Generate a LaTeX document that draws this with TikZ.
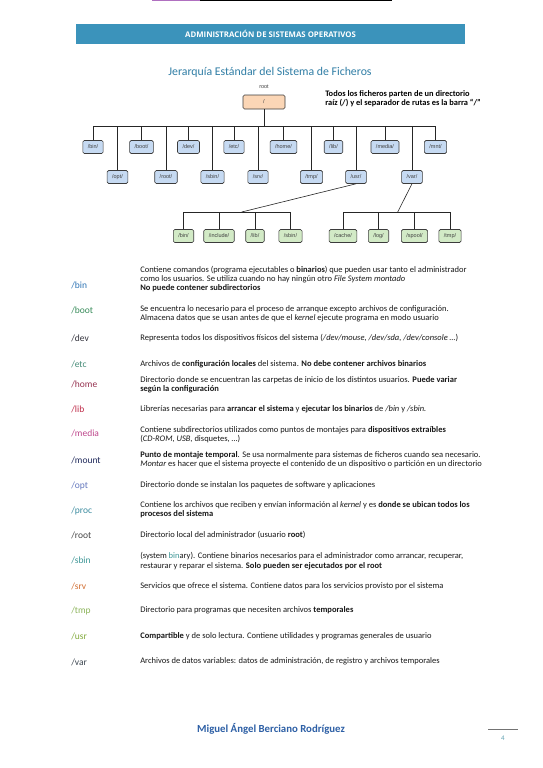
\documentclass[tikz,border=0pt]{standalone}
\usepackage{fontspec}
\setmainfont{Carlito}
\newfontfamily\boxfont{Liberation Sans}
\newfontfamily\headfont{Open Sans}

\definecolor{headblue}{RGB}{59,147,187}
\definecolor{titleblue}{RGB}{47,125,165}
\definecolor{footblue}{RGB}{46,96,166}
\definecolor{topline}{RGB}{176,112,192}
\definecolor{boxline}{RGB}{60,60,60}
\definecolor{boxblue}{RGB}{198,218,242}
\definecolor{boxgreen}{RGB}{210,234,198}
\definecolor{boxpeach}{RGB}{251,214,182}
\definecolor{desctext}{RGB}{25,25,25}
\definecolor{cbin}{RGB}{46,116,181}
\definecolor{cboot}{RGB}{56,140,90}
\definecolor{cdev}{RGB}{50,50,60}
\definecolor{cetc}{RGB}{70,140,120}
\definecolor{chome}{RGB}{150,50,80}
\definecolor{clib}{RGB}{190,40,70}
\definecolor{cmedia}{RGB}{190,70,140}
\definecolor{cmount}{RGB}{30,40,90}
\definecolor{copt}{RGB}{100,120,190}
\definecolor{cproc}{RGB}{60,140,160}
\definecolor{croot}{RGB}{70,70,70}
\definecolor{csbin}{RGB}{60,150,150}
\definecolor{csrv}{RGB}{210,110,50}
\definecolor{ctmp}{RGB}{140,180,90}
\definecolor{cusr}{RGB}{130,170,60}
\definecolor{cvar}{RGB}{60,70,80}

\begin{document}
\begin{tikzpicture}[
    x=1pt, y=-1pt,
    every node/.style={inner sep=0pt},
    every path/.style={line width=0.6pt, draw=black!85},
    dirbox/.style={
        draw=boxline,
        rounded corners=1.5pt,
        minimum height=13pt,
        inner xsep=5pt,
        font=\boxfont\fontsize{5.5}{6}\selectfont,
        text=black!75
    },
    bluebox/.style={dirbox, fill=boxblue},
    greenbox/.style={dirbox, fill=boxgreen},
    dirlabel/.style={anchor=west, font=\fontsize{9.5}{10}\selectfont},
    desc/.style={anchor=west, align=left, text=desctext,
        font=\fontsize{8.5}{9.3}\selectfont}
]

\fill[white, draw=none] (0,0) rectangle (542,768);

% Page header
\draw[topline, line width=1.2pt] (152,0.6) -- (200,0.6);
\draw[black, line width=1pt] (200,0.5) -- (392,0.5);
\node[fill=headblue, draw=none, minimum width=389pt, minimum height=20pt, text=white,
    font=\headfont\bfseries\fontsize{7.8}{9}\selectfont] (head) at (270.5,34)
    {ADMINISTRACIÓN DE SISTEMAS OPERATIVOS};

% Title
\node[text=titleblue, font=\fontsize{11.8}{13}\selectfont] (title) at (270,72)
    {Jerarquía Estándar del Sistema de Ficheros};
\node[anchor=west, align=left, font=\bfseries\fontsize{8.4}{9}\selectfont] (note)
    at (325,98.5) {Todos los ficheros parten de un directorio\\
    raíz (/) y el separador de rutas es la barra “/”};

% Root
\node[font=\boxfont\fontsize{5.5}{6}\selectfont, text=black!75] (rootlbl) at (264,87) {root};
\node[dirbox, fill=boxpeach, minimum width=42pt, minimum height=14pt] (root) at (264,102) {/};
\coordinate (bus) at (264,126);

% First level, upper row
\node[bluebox] (bin) at (93,147) {/bin/};
\node[bluebox] (boot) at (141.5,147) {/boot/};
\node[bluebox] (dev) at (188.5,147) {/dev/};
\node[bluebox] (etc) at (234,147) {/etc/};
\node[bluebox] (home) at (283.5,147) {/home/};
\node[bluebox] (lib) at (333.5,147) {/lib/};
\node[bluebox] (media) at (385,147) {/media/};
\node[bluebox] (mnt) at (435.5,147) {/mnt/};

% First level, lower row
\node[bluebox] (opt) at (117.5,177) {/opt/};
\node[bluebox] (rootdir) at (166,177) {/root/};
\node[bluebox] (sbin) at (212.5,177) {/sbin/};
\node[bluebox] (srv) at (258,177) {/srv/};
\node[bluebox] (tmp) at (311.5,177) {/tmp/};
\node[bluebox] (usr) at (356,177) {/usr/};
\node[bluebox] (var) at (412,177) {/var/};

\draw (root) -- (bus);
\draw (bin.north) |- (bus);
\draw (opt.north) |- (bus);
\draw (boot.north) |- (bus);
\draw (rootdir.north) |- (bus);
\draw (dev.north) |- (bus);
\draw (sbin.north) |- (bus);
\draw (etc.north) |- (bus);
\draw (srv.north) |- (bus);
\draw (home.north) |- (bus);
\draw (tmp.north) |- (bus);
\draw (lib.north) |- (bus);
\draw (usr.north) |- (bus);
\draw (media.north) |- (bus);
\draw (var.north) |- (bus);
\draw (mnt.north) |- (bus);

% Inside /usr/
\coordinate (usrbus) at (241.7,212);
\node[greenbox] (ubin) at (183.5,236) {/bin/};
\node[greenbox] (uinclude) at (219,236) {/include/};
\node[greenbox] (ulib) at (255,236) {/lib/};
\node[greenbox] (usbin) at (290.5,236) {/sbin/};

\draw (usr.south) -- (usrbus);
\draw (ubin.north) |- (usrbus);
\draw (uinclude.north) |- (usrbus);
\draw (ulib.north) |- (usrbus);
\draw (usbin.north) |- (usrbus);

% Inside /var/
\coordinate (varbus) at (397.7,212);
\node[greenbox] (vcache) at (343,236) {/cache/};
\node[greenbox] (vlog) at (378.5,236) {/log/};
\node[greenbox] (vspool) at (414.5,236) {/spool/};
\node[greenbox] (vtmp) at (450,236) {/tmp/};

\draw (var.south) -- (varbus);
\draw (vcache.north) |- (varbus);
\draw (vlog.north) |- (varbus);
\draw (vspool.north) |- (varbus);
\draw (vtmp.north) |- (varbus);

% Directory descriptions
\node[dirlabel, text=cbin] (lbin) at (71,285) {/bin};
\node[desc] (dbin) at (140,279) {Contiene comandos (programa ejecutables o \textbf{binarios}) que pueden usar tanto el administrador\\
    como los usuarios. Se utiliza cuando no hay ningún otro \textit{File System montado}\\
    \textbf{No puede contener subdirectorios}};

\node[dirlabel, text=cboot] (lboot) at (71,310) {/boot};
\node[desc] (dboot) at (140,313.5) {Se encuentra lo necesario para el proceso de arranque excepto archivos de configuración.\\
    Almacena datos que se usan antes de que el \textit{kernel} ejecute programa en modo usuario};

\node[dirlabel, text=cdev] (ldev) at (71,338) {/dev};
\node[desc] (ddev) at (140,338) {Representa todos los dispositivos físicos del sistema (\textit{/dev/mouse, /dev/sda, /dev/console …})};

\node[dirlabel, text=cetc] (letc) at (71,364) {/etc};
\node[desc] (detc) at (140,364) {Archivos de \textbf{configuración locales} del sistema. \textbf{No debe contener archivos binarios}};

\node[dirlabel, text=chome] (lhome) at (71,384) {/home};
\node[desc] (dhome) at (140,384.5) {Directorio donde se encuentran las carpetas de inicio de los distintos usuarios. \textbf{Puede variar}\\
    \textbf{según la configuración}};

\node[dirlabel, text=clib] (llib) at (71,409) {/lib};
\node[desc] (dlib) at (140,409) {Librerías necesarias para \textbf{arrancar el sistema} y \textbf{ejecutar los binarios} de \textit{/bin} y \textit{/sbin.}};

\node[dirlabel, text=cmedia] (lmedia) at (71,433) {/media};
\node[desc] (dmedia) at (140,434.5) {Contiene subdirectorios utilizados como puntos de montajes para \textbf{dispositivos extraíbles}\\
    (\textit{CD-ROM, USB}, disquetes, …)};

\node[dirlabel, text=cmount] (lmount) at (71,460) {/mount};
\node[desc] (dmount) at (140,460) {\textbf{Punto de montaje temporal}. Se usa normalmente para sistemas de ficheros cuando sea necesario.\\
    \textit{Montar} es hacer que el sistema proyecte el contenido de un dispositivo o partición en un directorio};

\node[dirlabel, text=copt] (lopt) at (71,486) {/opt};
\node[desc] (dopt) at (140,485.5) {Directorio donde se instalan los paquetes de software y aplicaciones};

\node[dirlabel, text=cproc] (lproc) at (71,511) {/proc};
\node[desc] (dproc) at (140,510) {Contiene los archivos que reciben y envían información al \textit{kernel} y es \textbf{donde se ubican todos los}\\
    \textbf{procesos del sistema}};

\node[dirlabel, text=croot] (lroot) at (71,535) {/root};
\node[desc] (droot) at (140,535) {Directorio local del administrador (usuario \textbf{root})};

\node[dirlabel, text=csbin] (lsbin) at (71,560) {/sbin};
\node[desc] (dsbin) at (140,561) {(system \textcolor{csbin}{bin}ary). Contiene binarios necesarios para el administrador como arrancar, recuperar,\\
    restaurar y reparar el sistema. \textbf{Solo pueden ser ejecutados por el root}};

\node[dirlabel, text=csrv] (lsrv) at (71,586) {/srv};
\node[desc] (dsrv) at (140,586) {Servicios que ofrece el sistema. Contiene datos para los servicios provisto por el sistema};

\node[dirlabel, text=ctmp] (ltmp) at (71,611) {/tmp};
\node[desc] (dtmp) at (140,610.5) {Directorio para programas que necesiten archivos \textbf{temporales}};

\node[dirlabel, text=cusr] (lusr) at (71,636) {/usr};
\node[desc] (dusr) at (140,636) {\textbf{Compartible} y de solo lectura. Contiene utilidades y programas generales de usuario};

\node[dirlabel, text=cvar] (lvar) at (71,662) {/var};
\node[desc] (dvar) at (140,661.5) {Archivos de datos variables: datos de administración, de registro y archivos temporales};

% Footer
\node[text=footblue, font=\bfseries\fontsize{10.8}{12}\selectfont] (author) at (271,729)
    {Miguel Ángel Berciano Rodríguez};
\draw[black!55, line width=1pt] (488,729) -- (518,729);
\node[text=cproc!80, font=\fontsize{7}{8}\selectfont] (pagenum) at (503,738) {4};

\end{tikzpicture}
\end{document}
